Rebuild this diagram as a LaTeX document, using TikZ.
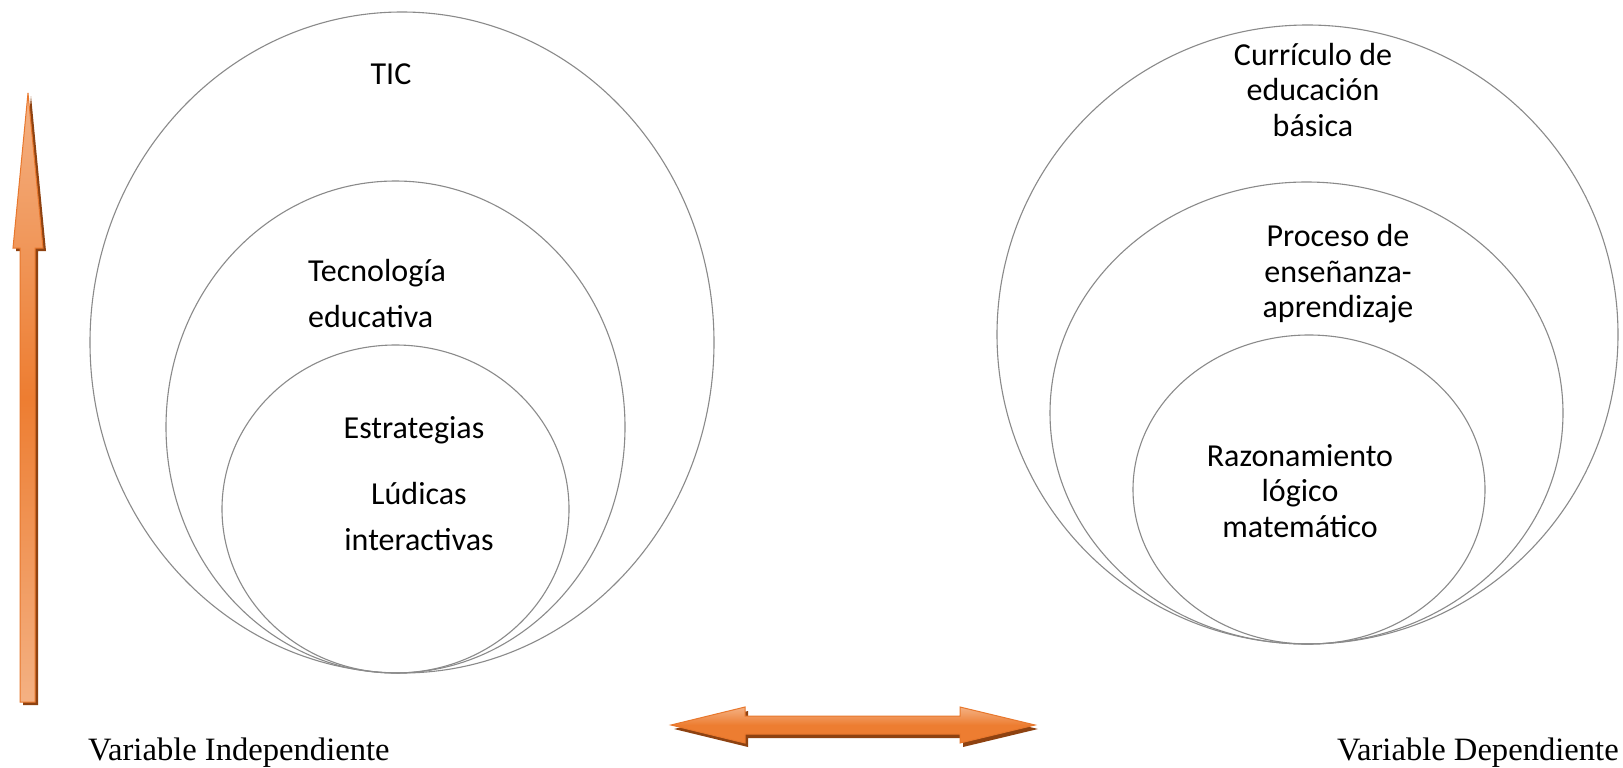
\documentclass[tikz,border=0pt]{standalone}
\usepackage{fontspec}
\setmainfont{Liberation Serif}
\newfontfamily\calfont{Carlito}
\usetikzlibrary{shapes.geometric}
\definecolor{ring}{HTML}{8A8A8A}
\definecolor{orangeMain}{HTML}{ED7D31}
\definecolor{orangeLight}{HTML}{F4B183}
\definecolor{orangeEdge}{HTML}{E8772C}
\definecolor{orangeShadow}{HTML}{8E4211}
\tikzset{
  ring/.style={ellipse, draw=ring, line width=1.1pt, inner sep=0pt, fill=none},
  lbl/.style={font=\calfont\fontsize{32}{35.5}\selectfont, inner sep=0pt, align=center},
  lblwide/.style={font=\calfont\fontsize{32}{46}\selectfont, inner sep=0pt},
  var/.style={font=\fontsize{32.6}{36}\selectfont, inner sep=0pt, anchor=base west},
}
\begin{document}
\begin{tikzpicture}[x=1pt,y=-1pt]
\useasboundingbox (0,0) rectangle (1623,768);
\fill[white] (0,0) rectangle (1623,768);

% left group
\node[ring, minimum width=624pt, minimum height=661pt] (tic) at (402,342.5) {};
\node[ring, minimum width=459pt, minimum height=492pt] (tec) at (395.5,427) {};
\node[ring, minimum width=347pt, minimum height=328pt] (est) at (395.5,509) {};

% right group
\node[ring, minimum width=621pt, minimum height=619pt] (cur) at (1307.5,334.5) {};
\node[ring, minimum width=513pt, minimum height=462pt] (pro) at (1306.5,413) {};
\node[ring, minimum width=352pt, minimum height=309pt] (raz) at (1309,489.5) {};

% labels left
\node[lbl] (tTIC) at (391,74.5) {TIC};
\node[lblwide, align=left, anchor=west] (tTec) at (308,293.5) {Tecnología\\educativa};
\node[lbl] (tEst) at (414,430) {Estrategias};
\node[lblwide, align=center] (tLud) at (419,517) {Lúdicas\\interactivas};

% labels right
\node[lbl] (tCur) at (1313,90) {Currículo de\\educación\\básica};
\node[lbl] (tPro) at (1338,274) {Proceso de\\enseñanza-\\aprendizaje};
\node[lbl] (tRaz) at (1300,491) {Razonamiento\\lógico\\matemático};

% variable labels
\node[var] (vInd) at (88,760) {Variable Independiente};
\node[var] (vDep) at (1337,760) {Variable Dependiente};

% vertical arrow
\coordinate (vTip) at (28,93);
\fill[orangeShadow] ([shift={(3,3)}]vTip) -- (46,251) -- (38,251) -- (38,705) -- (23,705) -- (23,251) -- (16,251) -- cycle;
\shade[top color=orangeLight, bottom color=orangeLight, middle color=orangeMain, draw=orangeEdge, line width=1pt]
  (vTip) -- (43,248) -- (35,248) -- (35,702) -- (20,702) -- (20,248) -- (13,248) -- cycle;

% horizontal double arrow
\coordinate (hL) at (671,725);
\coordinate (hR) at (1035,725);
\fill[orangeShadow] ([shift={(3,4)}]hL) -- (748,711) -- (748,720) -- (963,720) -- (963,711) -- ([shift={(3,4)}]hR) -- (963,747) -- (963,738) -- (748,738) -- (748,747) -- cycle;
\shade[top color=orangeLight, bottom color=orangeMain, middle color=orangeMain, draw=orangeEdge, line width=1pt]
  (hL) -- (745,707) -- (745,716) -- (960,716) -- (960,707) -- (hR) -- (960,743) -- (960,734) -- (745,734) -- (745,743) -- cycle;
\end{tikzpicture}
\end{document}
